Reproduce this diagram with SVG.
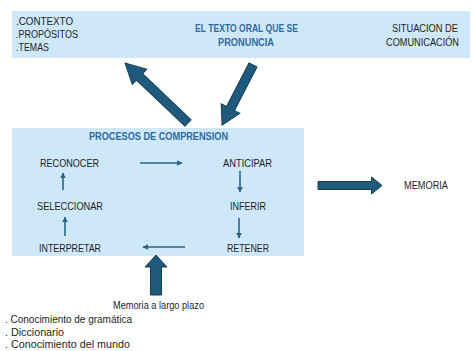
<svg xmlns="http://www.w3.org/2000/svg" width="473" height="351" viewBox="0 0 473 351">
<style>
.box{fill:#cfe8f9;}
.t{font-family:"Liberation Sans",Arial,sans-serif;font-size:10.5px;fill:#1e1e1e;}
.b{font-family:"Liberation Sans",Arial,sans-serif;font-size:10.5px;font-weight:bold;fill:#2f6ba3;}
.n{font-family:"Liberation Sans",Arial,sans-serif;font-size:10.5px;fill:#1e1e1e;}
.big{fill:#1f5a7c;stroke:#163f57;stroke-width:1;}
.sm{stroke:#2b6585;stroke-width:1.6;fill:none;marker-end:url(#ah);}
</style>
<defs>
<marker id="ah" viewBox="0 0 10 10" refX="9" refY="5" markerWidth="3.6" markerHeight="3.6" orient="auto" markerUnits="strokeWidth">
<path d="M0,0 L10,5 L0,10 z" fill="#2b6585"/>
</marker>
</defs>
<rect width="473" height="351" fill="#ffffff"/>

<g id="top-box">
<rect class="box" x="12" y="11" width="458" height="47"/>
<text class="t" x="16" y="25" textLength="57" lengthAdjust="spacingAndGlyphs">.CONTEXTO</text>
<text class="t" x="16" y="38" textLength="62" lengthAdjust="spacingAndGlyphs">.PROPÓSITOS</text>
<text class="t" x="16" y="51" textLength="33" lengthAdjust="spacingAndGlyphs">.TEMAS</text>
</g>
<g id="texto-oral">
<text class="b" x="246.5" y="32" text-anchor="middle" textLength="103" lengthAdjust="spacingAndGlyphs">EL TEXTO ORAL QUE SE</text>
<text class="b" x="246" y="46" text-anchor="middle" textLength="56" lengthAdjust="spacingAndGlyphs">PRONUNCIA</text>
</g>
<g id="situacion">
<text class="t" x="425" y="32" text-anchor="middle" textLength="66" lengthAdjust="spacingAndGlyphs">SITUACION DE</text>
<text class="t" x="422.5" y="46" text-anchor="middle" textLength="73" lengthAdjust="spacingAndGlyphs">COMUNICACIÓN</text>
</g>

<g id="procesos">
<rect class="box" x="12" y="128" width="292" height="128"/>
<text class="b" x="158.5" y="140" text-anchor="middle" textLength="139" lengthAdjust="spacingAndGlyphs">PROCESOS DE COMPRENSION</text>
</g>
<g id="reconocer"><text class="t" x="69.5" y="167" text-anchor="middle" textLength="59" lengthAdjust="spacingAndGlyphs">RECONOCER</text></g>
<g id="seleccionar"><text class="t" x="70" y="210" text-anchor="middle" textLength="66" lengthAdjust="spacingAndGlyphs">SELECCIONAR</text></g>
<g id="interpretar"><text class="t" x="70" y="251.5" text-anchor="middle" textLength="62" lengthAdjust="spacingAndGlyphs">INTERPRETAR</text></g>
<g id="anticipar"><text class="t" x="247.5" y="167" text-anchor="middle" textLength="49" lengthAdjust="spacingAndGlyphs">ANTICIPAR</text></g>
<g id="inferir"><text class="t" x="248" y="210" text-anchor="middle" textLength="36" lengthAdjust="spacingAndGlyphs">INFERIR</text></g>
<g id="retener"><text class="t" x="248" y="251.5" text-anchor="middle" textLength="42" lengthAdjust="spacingAndGlyphs">RETENER</text></g>

<g id="memoria"><text class="t" x="426" y="189" text-anchor="middle" textLength="44" lengthAdjust="spacingAndGlyphs">MEMORIA</text></g>

<g id="memoria-largo-plazo">
<text class="n" x="158.5" y="309" text-anchor="middle" textLength="91" lengthAdjust="spacingAndGlyphs">Memoria a largo plazo</text>
<text class="n" x="5" y="322.5" textLength="127" lengthAdjust="spacingAndGlyphs">. Conocimiento de gramática</text>
<text class="n" x="5" y="335.5" textLength="59" lengthAdjust="spacingAndGlyphs">. Diccionario</text>
<text class="n" x="5" y="348" textLength="125" lengthAdjust="spacingAndGlyphs">. Conocimiento del mundo</text>
</g>

<g id="connectors">
<polygon class="big" transform="translate(188,123) rotate(223.6)" points="0,-4.5 67,-4.5 67,-10.5 87,0 67,10.5 67,4.5 0,4.5"/>
<polygon class="big" transform="translate(253,65) rotate(117.3)" points="0,-4.5 49,-4.5 49,-10.5 67.5,0 49,10.5 49,4.5 0,4.5"/>
<polygon class="big" points="318,181.5 371.5,181.5 371.5,177 382,185.5 371.5,194 371.5,189.5 318,189.5"/>
<polygon class="big" points="150.5,295 150.5,267 145,267 156,255 167,267 161.5,267 161.5,295"/>
<line class="sm" x1="140" y1="163" x2="182" y2="163"/>
<line class="sm" x1="240" y1="171" x2="240" y2="192"/>
<line class="sm" x1="239" y1="218" x2="239" y2="238"/>
<line class="sm" x1="185" y1="247" x2="143" y2="247"/>
<line class="sm" x1="63" y1="190" x2="63" y2="173"/>
<line class="sm" x1="65" y1="236" x2="65" y2="217"/>
</g>
</svg>
